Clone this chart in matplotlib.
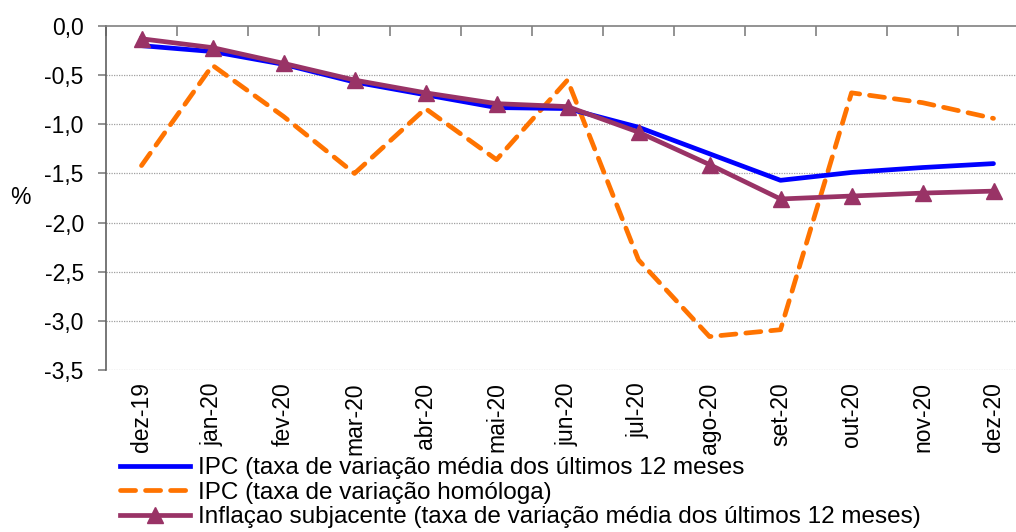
import matplotlib
matplotlib.use("Agg")
import matplotlib.pyplot as plt
from matplotlib.lines import Line2D
import numpy as np

categories = ["dez-19", "jan-20", "fev-20", "mar-20", "abr-20", "mai-20", "jun-20",
              "jul-20", "ago-20", "set-20", "out-20", "nov-20", "dez-20"]
ipc_media = [-0.20, -0.26, -0.39, -0.57, -0.70, -0.83, -0.84, -1.03, -1.30, -1.57, -1.49, -1.44, -1.40]
ipc_homologa = [-1.42, -0.40, -0.92, -1.50, -0.84, -1.36, -0.55, -2.38, -3.16, -3.09, -0.68, -0.78, -0.94]
inflacao_subj = [-0.13, -0.22, -0.38, -0.55, -0.68, -0.79, -0.82, -1.08, -1.41, -1.76, -1.73, -1.70, -1.68]
labels = ["IPC (taxa de variação média dos últimos 12 meses",
          "IPC (taxa de variação homóloga)",
          "Inflaçao subjacente (taxa de variação média dos últimos 12 meses)"]
yticks = [0.0, -0.5, -1.0, -1.5, -2.0, -2.5, -3.0, -3.5]

plt.rcParams['font.family'] = ['Liberation Sans', 'DejaVu Sans']

W, H = 1016, 532
fig = plt.figure(figsize=(W / 100, H / 100), dpi=100)
x0, x1, ytop, ybot = 106, 1029, 26, 370
ax = fig.add_axes([x0 / W, 1 - ybot / H, (x1 - x0) / W, (ybot - ytop) / H])

x = np.arange(len(categories))
blue = "#0000FF"
orange = "#FF7300"
purple = "#993366"

ax.plot(x, ipc_media, color=blue, lw=3.4, solid_capstyle='round', zorder=3)
ax.plot(x, ipc_homologa, color=orange, lw=3.4, dashes=(3.2, 2.1), dash_capstyle='round', zorder=2)
ax.plot(x, inflacao_subj, color=purple, lw=3.4, marker='^', markersize=11, zorder=4)

ax.set_xlim(-0.5, len(categories) - 0.5)
ax.set_ylim(-3.5, 0.0)
ax.set_yticks(yticks)
ax.set_yticklabels([f"{v:.1f}".replace(".", ",") for v in yticks], fontsize=16.5)

for v in yticks[1:]:
    ax.axhline(v, color="#a0a0a0", lw=0.9, ls=(0, (1, 1)), zorder=1)

ax.set_xticks(x)
ax.set_xticklabels(categories, rotation=90, fontsize=16.5, va='top')
ax.tick_params(axis='x', which='major', length=0, pad=9)
ax.set_xticks(np.arange(-0.5, len(categories), 1.0), minor=True)
ax.tick_params(axis='x', which='minor', top=True, bottom=False, direction='in',
               length=7, width=1.2, color="#808080")
ax.tick_params(axis='y', direction='out', length=6, width=1.2, color="#808080", pad=10)

for s in ['bottom', 'right']:
    ax.spines[s].set_visible(False)
ax.spines['top'].set_color("#808080")
ax.spines['top'].set_linewidth(1.2)
ax.spines['left'].set_color("#606060")
ax.spines['left'].set_linewidth(1.2)

fig.text(20 / W, 1 - 198 / H, "%", fontsize=16.5, ha='center', va='center')

handles = [Line2D([], [], color=blue, lw=3.4),
           Line2D([], [], color=orange, lw=3.4, dashes=(3.2, 2.1), dash_capstyle='round'),
           Line2D([], [], color=purple, lw=3.4, marker='^', markersize=11)]
fig.legend(handles, labels, loc='upper left', bbox_to_anchor=(120 / W, 1 - 457 / H),
           frameon=False, fontsize=17.5, handlelength=2.9, handletextpad=0.3,
           labelspacing=0.11, borderpad=0, borderaxespad=0)

fig.savefig("out.png", dpi=100)
